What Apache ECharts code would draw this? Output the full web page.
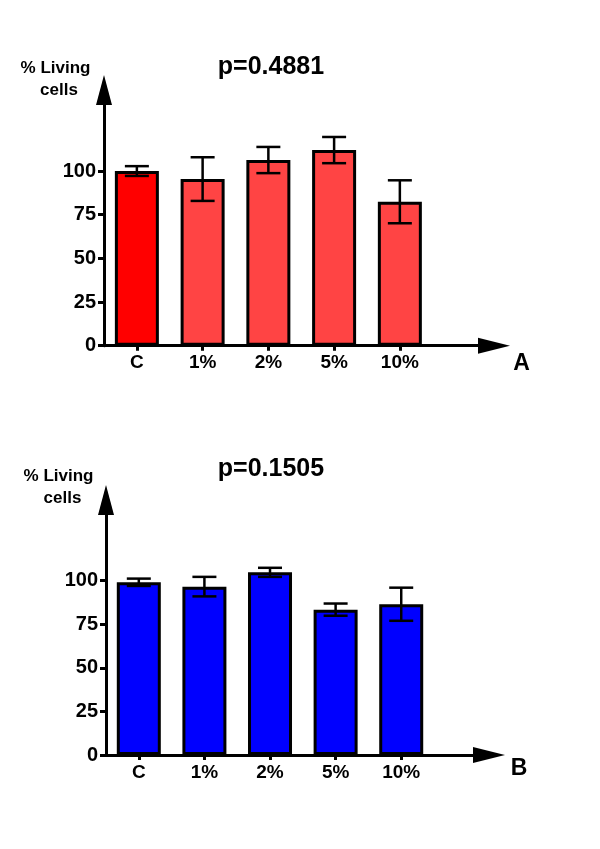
<!DOCTYPE html>
<html>
<head>
<meta charset="utf-8">
<script src="https://cdn.jsdelivr.net/npm/echarts@6/dist/echarts.min.js"></script>
<style>html,body{margin:0;padding:0;background:#fff}#c{width:600px;height:849px}</style>
</head>
<body>
<div id="c"></div>
<script>
const categories = ['C', '1%', '2%', '5%', '10%'];
const meansA = [100, 95.4, 106.3, 112, 82.4];
const errA = [2.8, 12.5, 7.5, 7.5, 12.3];
const meansB = [99.1, 96.6, 104.8, 83.4, 86.5];
const errB = [2.1, 5.6, 2.6, 3.5, 9.5];
const yTicks = [0, 25, 50, 75, 100];
const xTicks = [0, 1, 2, 3, 4];
const colorsA = ['#FF0000', '#FF4444', '#FF4444', '#FF4444', '#FF4444'];
const colorsB = ['#0000FF', '#0000FF', '#0000FF', '#0000FF', '#0000FF'];
const titleA = 'p=0.4881';
const titleB = 'p=0.1505';

const FONT = '"Liberation Sans", Arial, sans-serif';

function xAxisCfg(gridIndex, max) {
  return {
    type: 'value', gridIndex: gridIndex, min: -0.5, max: max,
    axisLine: { show: true, onZero: false, lineStyle: { color: '#000', width: 3 },
      symbol: ['none', 'triangle'], symbolSize: [16, 32] },
    axisTick: { show: true, length: 5, lineStyle: { color: '#000', width: 3 }, customValues: xTicks },
    axisLabel: { customValues: xTicks, margin: 8, color: '#000', fontSize: 19, fontWeight: 'bold',
      fontFamily: FONT, formatter: function (v) { return categories[Math.round(v)]; } },
    splitLine: { show: false }
  };
}
function yAxisCfg(gridIndex, max) {
  return {
    type: 'value', gridIndex: gridIndex, min: 0, max: max,
    axisLine: { show: true, onZero: false, lineStyle: { color: '#000', width: 3 },
      symbol: ['none', 'triangle'], symbolSize: [16, 30] },
    axisTick: { show: true, length: 6, lineStyle: { color: '#000', width: 3 }, customValues: yTicks },
    axisLabel: { customValues: yTicks, margin: 8, color: '#000', fontSize: 20, fontWeight: 'bold', fontFamily: FONT },
    splitLine: { show: false }
  };
}
function barSeries(idx, means, colors) {
  return {
    type: 'bar', xAxisIndex: idx, yAxisIndex: idx, barWidth: 44,
    data: means.map(function (m, i) {
      return { value: [i, m], itemStyle: { color: colors[i], borderColor: '#000', borderWidth: 3 } };
    }),
    z: 2
  };
}
function errSeries(idx, means, errs) {
  return {
    type: 'custom', xAxisIndex: idx, yAxisIndex: idx, z: 3,
    encode: { x: 0, y: [1, 2] },
    data: means.map(function (m, i) { return [i, m - errs[i], m + errs[i]]; }),
    renderItem: function (params, api) {
      const x = api.value(0);
      const lo = api.coord([x, api.value(1)]);
      const hi = api.coord([x, api.value(2)]);
      const hw = 12;
      const st = { stroke: '#000', lineWidth: 2.5 };
      return {
        type: 'group',
        children: [
          { type: 'line', shape: { x1: lo[0], y1: lo[1], x2: hi[0], y2: hi[1] }, style: st },
          { type: 'line', shape: { x1: hi[0] - hw, y1: hi[1], x2: hi[0] + hw, y2: hi[1] }, style: st },
          { type: 'line', shape: { x1: lo[0] - hw, y1: lo[1], x2: lo[0] + hw, y2: lo[1] }, style: st }
        ]
      };
    }
  };
}
function txt(x, y, s, size) {
  return { type: 'text', x: x, y: y, style: { text: s, fill: '#000', font: 'bold ' + size + 'px ' + FONT,
    textAlign: 'center', textVerticalAlign: 'middle' } };
}

const chart = echarts.init(document.getElementById('c'));
chart.setOption({
  animation: false,
  backgroundColor: '#fff',
  grid: [
    { left: 104, top: 90, width: 390, height: 255.7 },
    { left: 106, top: 500, width: 383, height: 255 }
  ],
  xAxis: [xAxisCfg(0, 5.432), xAxisCfg(1, 5.338)],
  yAxis: [yAxisCfg(0, 146.4), yAxisCfg(1, 146.3)],
  series: [
    barSeries(0, meansA, colorsA), errSeries(0, meansA, errA),
    barSeries(1, meansB, colorsB), errSeries(1, meansB, errB)
  ],
  graphic: [
    txt(55.5, 68.5, '% Living', 17), txt(59, 90, 'cells', 17),
    txt(271, 67, titleA, 25), txt(521.5, 363.5, 'A', 23),
    txt(58.5, 476, '% Living', 17), txt(62.5, 498, 'cells', 17),
    txt(271, 469.5, titleB, 25), txt(519, 769, 'B', 23)
  ]
});
</script>
</body>
</html>
